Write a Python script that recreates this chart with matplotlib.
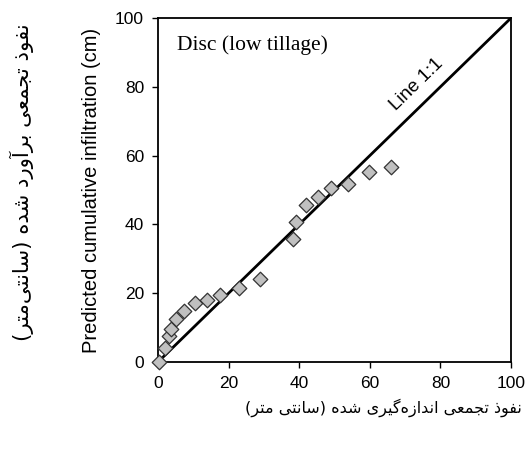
import matplotlib
matplotlib.use("Agg")
import matplotlib.pyplot as plt

# ---------------- data ----------------
measured = [0.4, 2.0, 3.1, 3.6, 5.1, 7.4, 10.5, 13.9, 17.6, 22.9, 28.9,
            38.3, 39.2, 41.8, 45.2, 49.0, 53.7, 59.8, 66.1]
predicted = [0.0, 4.0, 7.6, 9.6, 12.5, 14.8, 17.1, 18.0, 19.5, 21.4, 24.1,
             35.7, 40.8, 45.6, 48.1, 50.5, 51.7, 55.1, 56.6]
line_x = [0, 100]
line_y = [0, 100]
ticks = [0, 20, 40, 60, 80, 100]

title_text = "Disc (low tillage)"
line_label = "Line 1:1"
y_label_en = "Predicted cumulative infiltration (cm)"
x_label_fa = "نفوذ تجمعی اندازه\u200cگیری شده (سانتی متر)"
y_label_fa = "نفوذ تجمعی برآورد شده (سانتی\u200cمتر)"

# ---------------- simple Arabic-script shaping ----------------
FORMS = {
    '\u0627': ('\uFE8D', '\uFE8E', None, None),
    '\u0622': ('\uFE81', '\uFE82', None, None),
    '\u0628': ('\uFE8F', '\uFE90', '\uFE91', '\uFE92'),
    '\u062A': ('\uFE95', '\uFE96', '\uFE97', '\uFE98'),
    '\u062C': ('\uFE9D', '\uFE9E', '\uFE9F', '\uFEA0'),
    '\u062F': ('\uFEA9', '\uFEAA', None, None),
    '\u0630': ('\uFEAB', '\uFEAC', None, None),
    '\u0631': ('\uFEAD', '\uFEAE', None, None),
    '\u0632': ('\uFEAF', '\uFEB0', None, None),
    '\u0633': ('\uFEB1', '\uFEB2', '\uFEB3', '\uFEB4'),
    '\u0634': ('\uFEB5', '\uFEB6', '\uFEB7', '\uFEB8'),
    '\u0639': ('\uFEC9', '\uFECA', '\uFECB', '\uFECC'),
    '\u0641': ('\uFED1', '\uFED2', '\uFED3', '\uFED4'),
    '\u0645': ('\uFEE1', '\uFEE2', '\uFEE3', '\uFEE4'),
    '\u0646': ('\uFEE5', '\uFEE6', '\uFEE7', '\uFEE8'),
    '\u0647': ('\uFEE9', '\uFEEA', '\uFEEB', '\uFEEC'),
    '\u0648': ('\uFEED', '\uFEEE', None, None),
    '\u06CC': ('\uFBFC', '\uFBFD', '\uFBFE', '\uFBFF'),
    '\u06AF': ('\uFB92', '\uFB93', '\uFB94', '\uFB95'),
}


def dual(c):
    return c in FORMS and FORMS[c][2] is not None


def shape(s):
    out = []
    n = len(s)
    for i, c in enumerate(s):
        if c not in FORMS:
            if c == '\u200c':
                continue
            out.append(c)
            continue
        prev_join = i > 0 and dual(s[i - 1])
        next_join = dual(c) and i + 1 < n and s[i + 1] in FORMS
        iso, fin, ini, med = FORMS[c]
        if prev_join and next_join:
            out.append(med)
        elif prev_join:
            out.append(fin)
        elif next_join:
            out.append(ini)
        else:
            out.append(iso)
    mirror = {'(': ')', ')': '('}
    return ''.join(mirror.get(ch, ch) for ch in reversed(out))


# ---------------- figure ----------------
fig = plt.figure(figsize=(5.29, 4.5), dpi=100)
ax = fig.add_axes([0.2987, 0.1956, 0.9660 - 0.2987, 0.96 - 0.1956])

ax.plot(line_x, line_y, color='black', lw=2.0, zorder=2)
ax.scatter(measured, predicted, marker='D', s=55, facecolor='#C0C0C0',
           edgecolor='#333333', linewidths=0.9, zorder=3, clip_on=False)

ax.set_xlim(0, 100)
ax.set_ylim(0, 100)
ax.set_xticks(ticks)
ax.set_yticks(ticks)
ax.set_xticklabels([str(t) for t in ticks])
ax.set_yticklabels([str(t) for t in ticks])
for sp in ax.spines.values():
    sp.set_linewidth(1.3)
    sp.set_color('black')
ax.tick_params(direction='out', length=4, width=1.0, labelsize=12.5,
               colors='black', pad=6)
for lab in ax.get_xticklabels() + ax.get_yticklabels():
    lab.set_fontfamily('Liberation Sans')

ax.text(5.5, 92, title_text, family='Liberation Serif', fontsize=15.5,
        ha='left', va='center')
ax.text(73.4, 80.8, line_label, family='Liberation Sans', fontsize=13.5,
        rotation=44.3, rotation_mode='anchor', ha='center', va='center')

ax.set_ylabel(y_label_en, family='Liberation Sans', fontsize=14.5, labelpad=10)

fig.text(383 / 529, 1 - 408 / 450, shape(x_label_fa), family='DejaVu Sans',
         fontsize=11.5, ha='center', va='center')
fig.text(22 / 529, 1 - 182 / 450, shape(y_label_fa), family='DejaVu Sans',
         fontsize=15.3, ha='center', va='center', rotation=90)

fig.savefig('out.png', dpi=100)
